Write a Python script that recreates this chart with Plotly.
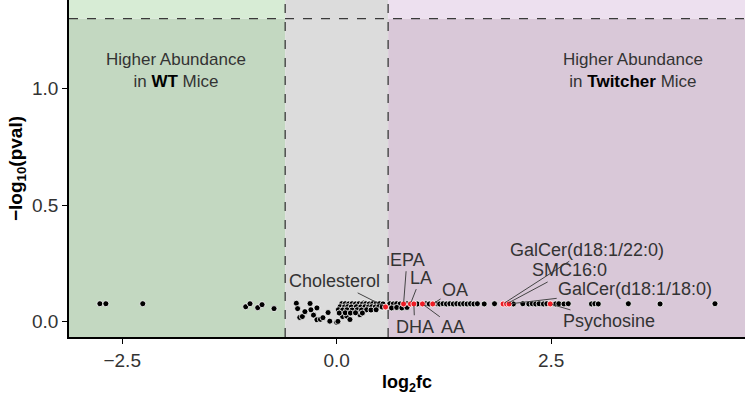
import plotly.graph_objects as go

# ---------------- data ----------------
# background (non-labelled) lipids: log2 fold change and -log10 p
bg_log2fc = [
    -2.76, -2.69, -2.26, -1.06, -1.01, -0.92, -0.87, -0.73,
    -0.47, -0.455, -0.43, -0.40, -0.37, -0.31, -0.30, -0.27, -0.23, -0.23,
    -0.19, -0.16, -0.10, -0.08, 0.0, 0.015, 0.07, 0.10, 0.117, 0.135, 0.155,
    0.194, 0.21, 0.25, 0.27, 0.31, 0.35, 0.39, 0.43, 0.47, 0.525,
    # dense upper row
    0.06, 0.10, 0.14, 0.18, 0.22, 0.26, 0.30, 0.34, 0.38, 0.42, 0.46, 0.50,
    0.54, 0.62, 0.66, 0.70, 0.74, 0.82, 0.94, 1.04, 1.08, 1.16, 1.20, 1.24,
    1.28, 1.32, 1.36, 1.40, 1.44, 1.48, 1.52, 1.56, 1.60, 1.64, 1.72, 1.84,
    2.06, 2.17, 2.24, 2.28, 2.32, 2.36, 2.41, 2.45, 2.55, 2.59, 2.65, 2.70,
    2.97, 3.01, 3.05, 3.40, 3.77, 4.41,
    # second row
    0.04, 0.09, 0.13, 0.17, 0.23, 0.28, 0.33, 0.37, 0.41, 0.45, 0.49, 0.53,
    0.64, 0.70, 0.76, 0.82,
    # third row
    0.02, 0.07, 0.12, 0.18, 0.24, 0.29, 0.35, 0.40, 0.46,
    # fourth row
    0.03, 0.10, 0.16, 0.22, 0.30,
]
bg_neglogp = [
    0.076, 0.076, 0.076, 0.063, 0.076, 0.059, 0.072, 0.055,
    0.078, 0.055, 0.017, 0.021, 0.042, 0.077, 0.050, 0.027, 0.058, 0.007,
    0.009, 0.016, 0.038, 0.001, -0.004, 0.000, 0.021, 0.052, 0.023, 0.064, 0.008,
    0.043, 0.072, 0.058, 0.029, 0.079, 0.050, 0.064, 0.079, 0.058, 0.076,
    0.076, 0.076, 0.075, 0.076, 0.075, 0.076, 0.075, 0.076, 0.075, 0.076, 0.075, 0.076,
    0.075, 0.076, 0.075, 0.076, 0.075, 0.076, 0.075, 0.076, 0.075, 0.076, 0.075, 0.076,
    0.075, 0.076, 0.075, 0.076, 0.075, 0.076, 0.075, 0.076, 0.075, 0.076, 0.075, 0.076,
    0.075, 0.076, 0.075, 0.076, 0.075, 0.076, 0.075, 0.076, 0.075, 0.076, 0.075, 0.076,
    0.075, 0.076, 0.075, 0.076, 0.075, 0.076,
    0.063, 0.062, 0.063, 0.062, 0.063, 0.062, 0.063, 0.062, 0.063, 0.062, 0.063, 0.062,
    0.058, 0.060, 0.058, 0.060,
    0.050, 0.049, 0.050, 0.049, 0.050, 0.049, 0.050, 0.049, 0.050,
    0.036, 0.037, 0.036, 0.037, 0.036,
]

# highlighted lipids
hl_names = ["Cholesterol", "EPA", "LA", "DHA", "AA", "OA",
            "GalCer(d18:1/22:0)", "SMC16:0", "GalCer(d18:1/18:0)", "Psychosine"]
hl_log2fc = [0.57, 0.78, 0.86, 0.90, 1.00, 1.12, 1.94, 1.98, 2.01, 2.49]
hl_neglogp = [0.062, 0.075, 0.075, 0.075, 0.075, 0.075, 0.075, 0.075, 0.075, 0.075]

fc_cut = 0.6
p_cut = 1.301
x_ticks = [-2.5, 0.0, 2.5]
y_ticks = [0.0, 0.5, 1.0]

# ---------------- layout helpers ----------------
XMIN, XMAX = -3.12, 4.76
YMIN, YMAX = -0.067, 1.381

# label text positions (data coords) for the repelled labels
label_pos = {
    "Cholesterol": (-0.02, 0.172),
    "EPA": (0.82, 0.265),
    "LA": (0.98, 0.188),
    "OA": (1.38, 0.136),
    "DHA": (0.91, -0.023),
    "AA": (1.36, -0.023),
    "GalCer(d18:1/22:0)": (2.92, 0.308),
    "SMC16:0": (2.71, 0.219),
    "GalCer(d18:1/18:0)": (3.48, 0.139),
    "Psychosine": (3.18, 0.0),
}

FONT = "Liberation Sans, Arial, sans-serif"
TXT = "#333333"

fig = go.Figure()

shapes = []
def rect(x0, x1, y0, y1, color):
    shapes.append(dict(type="rect", xref="x", yref="y", x0=x0, x1=x1, y0=y0, y1=y1,
                       fillcolor=color, line=dict(width=0), layer="below"))

rect(XMIN, -fc_cut, YMIN, p_cut, "#c3d8c1")
rect(XMIN, -fc_cut, p_cut, YMAX, "#d7ecd5")
rect(-fc_cut, fc_cut, YMIN, YMAX, "#dcdcdc")
rect(fc_cut, XMAX, YMIN, p_cut, "#d9c8d8")
rect(fc_cut, XMAX, p_cut, YMAX, "#ede0ef")

dash = dict(color="#3a3a3a", width=1.3, dash="dash")
for xv in (-fc_cut, fc_cut):
    shapes.append(dict(type="line", xref="x", yref="y", x0=xv, x1=xv, y0=YMIN, y1=YMAX,
                       line=dash, layer="below"))
shapes.append(dict(type="line", xref="x", yref="y", x0=XMIN, x1=XMAX, y0=p_cut, y1=p_cut,
                   line=dash, layer="below"))

fig.add_trace(go.Scatter(
    x=bg_log2fc, y=bg_neglogp, mode="markers",
    marker=dict(size=6, color="black", line=dict(color="white", width=0.8)),
    hoverinfo="skip", showlegend=False))
fig.add_trace(go.Scatter(
    x=hl_log2fc, y=hl_neglogp, mode="markers",
    marker=dict(size=6, color="#ee1c25", line=dict(color="white", width=0.8)),
    text=hl_names, showlegend=False))

annotations = []
for name, xv, yv in zip(hl_names, hl_log2fc, hl_neglogp):
    tx, ty = label_pos[name]
    annotations.append(dict(
        x=xv, y=yv, xref="x", yref="y", ax=tx, ay=ty, axref="x", ayref="y",
        text=name, showarrow=True, arrowhead=0, arrowwidth=1, arrowcolor="#444444",
        standoff=2, font=dict(family=FONT, size=18, color=TXT)))

annotations.append(dict(
    x=-1.87, y=1.08, xref="x", yref="y", showarrow=False,
    text="Higher Abundance<br>in <b><span style='color:black'>WT</span></b> Mice",
    font=dict(family=FONT, size=17, color=TXT), align="center"))
annotations.append(dict(
    x=3.46, y=1.08, xref="x", yref="y", showarrow=False,
    text="Higher Abundance<br>in <b><span style='color:black'>Twitcher</span></b> Mice",
    font=dict(family=FONT, size=17, color=TXT), align="center"))

fig.update_layout(
    width=747, height=397,
    margin=dict(l=69, r=2, t=0, b=60),
    paper_bgcolor="white", plot_bgcolor="white",
    shapes=shapes, annotations=annotations,
    font=dict(family=FONT, size=17, color=TXT),
    xaxis=dict(range=[XMIN, XMAX], tickvals=x_ticks, tickformat=".1f",
               showgrid=False, zeroline=False, showline=True, linecolor="black", linewidth=1.5,
               ticks="outside", ticklen=5, tickcolor="black", tickwidth=1.2,
               tickfont=dict(family=FONT, size=19, color=TXT),
               title=dict(text="<b>log<sub>2</sub>fc</b>", standoff=6,
                          font=dict(family=FONT, size=18, color="black"))),
    yaxis=dict(range=[YMIN, YMAX], tickvals=y_ticks, tickformat=".1f",
               showgrid=False, zeroline=False, showline=True, linecolor="black", linewidth=1.5,
               ticks="outside", ticklen=5, tickcolor="black", tickwidth=1.2,
               tickfont=dict(family=FONT, size=19, color=TXT),
               title=dict(text="<b>\u2212log<sub>10</sub>(pval)</b>", standoff=4,
                          font=dict(family=FONT, size=19, color="black"))),
)

fig.write_html("out.html")
